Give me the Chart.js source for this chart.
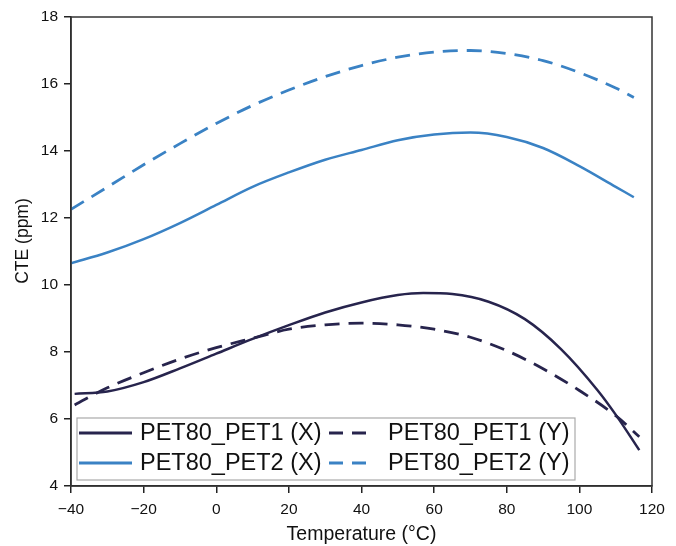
<!DOCTYPE html>
<html>
<head>
<meta charset="utf-8">
<script src="https://cdn.jsdelivr.net/npm/chart.js@4.4.1/dist/chart.umd.min.js"></script>
<style>
  html, body { margin: 0; padding: 0; background: #fff; }
  #wrap { width: 676px; height: 546px; }
</style>
</head>
<body>
<div id="wrap"><canvas id="cte-chart" width="676" height="546"></canvas></div>
<script>
// temperature (°C) vs CTE (ppm)
const tempX1 = [-39, -30, -20, -10, 0, 10, 20, 30, 40, 50, 57, 65, 75, 85, 95, 105, 110, 116.5];
const cteX1  = [6.75, 6.82, 7.1, 7.51, 7.95, 8.39, 8.8, 9.18, 9.48, 9.7, 9.76, 9.73, 9.5, 8.98, 8.08, 6.86, 6.13, 5.07];

const tempY1 = [-39, -30, -20, -10, 0, 10, 20, 30, 40, 50, 60, 70, 80, 90, 100, 110, 116.5];
const cteY1  = [6.42, 6.93, 7.38, 7.79, 8.13, 8.41, 8.68, 8.81, 8.86, 8.81, 8.68, 8.44, 8.04, 7.5, 6.85, 6.1, 5.47];

const tempX2 = [-40, -30, -20, -10, 0, 10, 20, 30, 40, 50, 60, 70, 80, 90, 100, 110, 115];
const cteX2  = [10.65, 10.97, 11.37, 11.85, 12.39, 12.93, 13.36, 13.74, 14.03, 14.32, 14.49, 14.55, 14.42, 14.09, 13.55, 12.93, 12.62];

const tempY2 = [-40, -30, -20, -10, 0, 10, 20, 30, 40, 50, 60, 70, 80, 90, 100, 110, 115];
const cteY2  = [12.26, 12.92, 13.59, 14.22, 14.82, 15.36, 15.82, 16.22, 16.55, 16.8, 16.95, 17.0, 16.91, 16.7, 16.34, 15.88, 15.6];

const seriesNames = ['PET80_PET1 (X)', 'PET80_PET1 (Y)', 'PET80_PET2 (X)', 'PET80_PET2 (Y)'];
const xTicks = [-40, -20, 0, 20, 40, 60, 80, 100, 120];
const yTicks = [4, 6, 8, 10, 12, 14, 16, 18];

const navy = '#27244d';
const blue = '#3a82c4';
const FONT = '"Liberation Sans", Arial, sans-serif';

function pts(xs, ys) {
  return xs.map((x, i) => ({ x: x, y: ys[i] }));
}

function line(label, xs, ys, color, dashed) {
  return {
    label: label,
    data: pts(xs, ys),
    borderColor: color,
    backgroundColor: color,
    borderWidth: dashed ? 2.8 : 2.5,
    borderDash: dashed ? [15, 9] : [],
    pointRadius: 0,
    tension: 0.4,
    cubicInterpolationMode: 'monotone',
    fill: false,
  };
}

// frame on top/right, y title, and the boxed legend in the lower-left corner
const framePlugin = {
  id: 'frame',
  afterDatasetsDraw(chart) {
    const { ctx, chartArea: a } = chart;
    ctx.save();
    ctx.strokeStyle = '#333';
    ctx.lineWidth = 1.5;
    ctx.strokeRect(a.left, a.top, a.right - a.left, a.bottom - a.top);

    // y axis title
    ctx.save();
    ctx.translate(23, 241);
    ctx.rotate(-Math.PI / 2);
    ctx.font = '17.5px ' + FONT;
    ctx.fillStyle = '#111';
    ctx.textAlign = 'center';
    ctx.textBaseline = 'middle';
    ctx.fillText('CTE (ppm)', 0, 0);
    ctx.restore();

    // legend
    const bx = 77, by = 418, bw = 498, bh = 62;
    ctx.fillStyle = '#fff';
    ctx.fillRect(bx, by, bw, bh);
    ctx.strokeStyle = '#aaa';
    ctx.lineWidth = 1.2;
    ctx.strokeRect(bx, by, bw, bh);

    const ds = chart.data.datasets;
    const cells = [
      { d: ds[0], x0: 79, x1: 132, tx: 140, y: 433 },
      { d: ds[2], x0: 79, x1: 132, tx: 140, y: 463 },
      { d: ds[1], x0: 329, x1: 371, tx: 388, y: 433 },
      { d: ds[3], x0: 329, x1: 371, tx: 388, y: 463 },
    ];
    ctx.font = '23.5px ' + FONT;
    ctx.textBaseline = 'middle';
    cells.forEach(c => {
      ctx.strokeStyle = c.d.borderColor;
      ctx.lineWidth = 3;
      ctx.setLineDash(c.d.borderDash.length ? [14, 9] : []);
      ctx.beginPath();
      ctx.moveTo(c.x0, c.y);
      ctx.lineTo(c.x1, c.y);
      ctx.stroke();
      ctx.setLineDash([]);
      ctx.fillStyle = '#111';
      ctx.fillText(c.d.label, c.tx, c.y + 1);
    });
    ctx.restore();
  }
};

new Chart(document.getElementById('cte-chart'), {
  type: 'line',
  data: {
    datasets: [
      line(seriesNames[0], tempX1, cteX1, navy, false),
      line(seriesNames[1], tempY1, cteY1, navy, true),
      line(seriesNames[2], tempX2, cteX2, blue, false),
      line(seriesNames[3], tempY2, cteY2, blue, true),
    ],
  },
  options: {
    responsive: false,
    animation: false,
    layout: { padding: { top: 17, right: 24, left: 0, bottom: 0 } },
    plugins: {
      legend: { display: false },
      tooltip: { enabled: false },
    },
    scales: {
      x: {
        type: 'linear',
        min: -40,
        max: 120,
        afterBuildTicks: s => { s.ticks = xTicks.map(v => ({ value: v })); },
        afterFit: s => { s.height = 60; },
        grid: { drawOnChartArea: false, drawTicks: true, tickLength: 7, color: '#222', lineWidth: 1.5 },
        border: { display: true, color: '#222', width: 1.5 },
        ticks: {
          color: '#111',
          font: { family: FONT, size: 15.5 },
          padding: 7,
          maxRotation: 0,
          callback: v => v < 0 ? '\u2212' + Math.abs(v) : String(v),
        },
        title: {
          display: true,
          text: 'Temperature (°C)',
          color: '#111',
          font: { family: FONT, size: 19.5 },
          padding: { top: 6, bottom: 0 },
        },
      },
      y: {
        min: 4,
        max: 18,
        afterBuildTicks: s => { s.ticks = yTicks.map(v => ({ value: v })); },
        afterFit: s => { s.width = 71; },
        grid: { drawOnChartArea: false, drawTicks: true, tickLength: 7, color: '#222', lineWidth: 1.5 },
        border: { display: true, color: '#222', width: 1.5 },
        ticks: {
          color: '#111',
          font: { family: FONT, size: 15.5 },
          padding: 6,
        },
      },
    },
  },
  plugins: [framePlugin],
});
</script>
</body>
</html>
